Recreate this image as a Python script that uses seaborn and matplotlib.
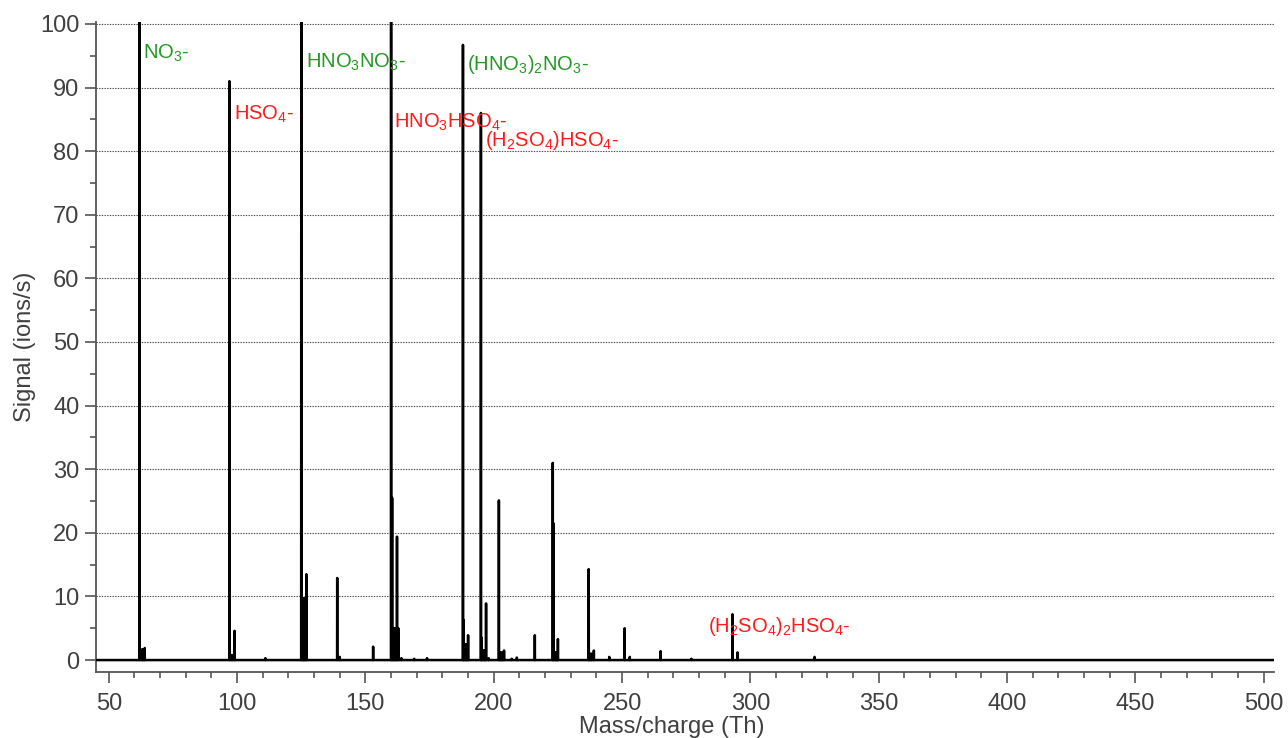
import pandas as pd
import matplotlib.pyplot as plt
import seaborn as sns
from matplotlib.ticker import MultipleLocator

peak_mz = [62, 63, 63.5, 64, 97, 98, 99, 111,
           125, 125.5, 126, 126.5, 127, 139, 140, 153,
           160, 160.4, 160.8, 161.3, 161.8, 162.3, 162.8, 164, 169, 174,
           188, 188.3, 188.7, 189.2, 189.6, 190, 195, 195.3, 195.7, 196.2, 196.6, 197, 198,
           202, 202.4, 203, 203.5, 204, 207, 209, 216,
           223, 223.3, 223.8, 224.3, 224.7, 225, 237, 237.5, 238, 239, 245, 251, 253, 265,
           277, 293, 295, 325]
peak_signal = [100.3, 1.7, 1.7, 1.9, 91.0, 0.8, 4.6, 0.3,
               100.3, 9.7, 9.7, 9.7, 13.5, 12.9, 0.5, 2.1,
               100.3, 25.5, 5.0, 5.0, 5.0, 19.4, 5.0, 0.3, 0.2, 0.3,
               96.7, 6.3, 2.5, 2.5, 2.5, 3.9, 86.0, 3.5, 1.5, 1.5, 1.5, 8.9, 0.3,
               25.1, 1.2, 1.2, 1.2, 1.5, 0.2, 0.4, 3.9,
               31.0, 21.5, 1.2, 1.2, 1.2, 3.3, 14.3, 1.0, 1.0, 1.5, 0.5, 5.0, 0.5, 1.4,
               0.2, 7.2, 1.2, 0.5]

ion_labels = [r'NO$_3$-', r'HSO$_4$-', r'HNO$_3$NO$_3$-', r'(HNO$_3$)$_2$NO$_3$-',
              r'HNO$_3$HSO$_4$-', r'(H$_2$SO$_4$)HSO$_4$-', r'(H$_2$SO$_4$)$_2$HSO$_4$-']
ion_x = [63.2, 98.7, 126.7, 189.6, 161.0, 196.5, 283.5]
ion_y = [94.5, 84.9, 93.1, 92.8, 83.7, 80.8, 4.4]
ion_color = ['#239a23', '#ff1a1a', '#239a23', '#239a23', '#ff1a1a', '#ff1a1a', '#ff1a1a']

# perfil de barras: cada pico como un triángulo muy estrecho sobre la línea base
xs, ys = [45.0], [0.0]
for mz, s in sorted(zip(peak_mz, peak_signal)):
    xs += [mz - 0.05, mz, mz + 0.05]
    ys += [0.0, s, 0.0]
xs.append(504.0)
ys.append(0.0)
df = pd.DataFrame({'mz': xs, 'signal': ys})

# --- figura ---
sns.set_style("ticks")
plt.rcParams['font.family'] = ['Liberation Sans', 'DejaVu Sans']
plt.rcParams['mathtext.default'] = 'regular'

fig = plt.figure(figsize=(12.88, 7.38), dpi=100)
ax = fig.add_axes([0.0745, 0.0894, 0.9146, 0.8808])

ax.yaxis.grid(True, which='major', linestyle=(0, (1.2, 1.2)), color='#444444', lw=0.8)
sns.lineplot(data=df, x='mz', y='signal', sort=False, estimator=None,
             color='black', lw=1.8, ax=ax, zorder=3)

for lab, x, y, c in zip(ion_labels, ion_x, ion_y, ion_color):
    ax.text(x, y, lab, color=c, fontsize=14.5, ha='left', va='baseline', zorder=4)

ax.set_xlim(45, 504)
ax.set_ylim(-1.88, 100.3)
ax.xaxis.set_major_locator(MultipleLocator(50))
ax.xaxis.set_minor_locator(MultipleLocator(10))
ax.yaxis.set_major_locator(MultipleLocator(10))
ax.yaxis.set_minor_locator(MultipleLocator(5))
ax.tick_params(which='major', length=8, width=1.2, color='#555555',
               labelsize=17, labelcolor='#404040', pad=4)
ax.tick_params(axis='x', which='major', pad=7)
ax.tick_params(which='minor', length=4.5, width=1.2, color='#555555')

for side in ['top', 'right']:
    ax.spines[side].set_visible(False)
for side in ['left', 'bottom']:
    ax.spines[side].set_color('#555555')
    ax.spines[side].set_linewidth(1.3)

ax.set_xlabel("Mass/charge (Th)", fontsize=17, color='#404040')
ax.set_ylabel("Signal (ions/s)", fontsize=17, color='#404040')
ax.xaxis.set_label_coords(0.489, -0.068)
ax.yaxis.set_label_coords(-0.051, 0.5)

fig.savefig("out.png", dpi=100)
